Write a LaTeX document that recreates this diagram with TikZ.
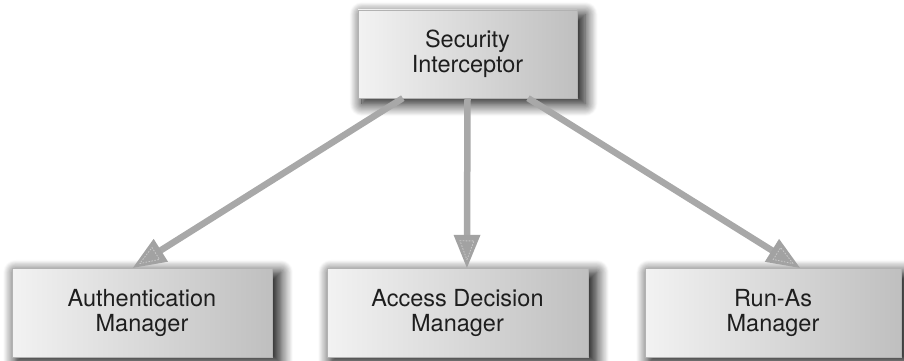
\documentclass[tikz,border=0pt]{standalone}
\usepackage{fontspec}
\setmainfont{TeX Gyre Heros}
\usetikzlibrary{calc,shadows.blur}
\definecolor{shaftgray}{HTML}{A8A8A8}
\definecolor{headgray}{HTML}{A2A2A2}
\definecolor{innergray}{HTML}{C8C8C8}
\definecolor{txt}{HTML}{1E1E1E}
\tikzset{
  box/.style={rectangle, inner sep=0pt, align=center, text=txt,
    font=\fontsize{23.5}{25}\selectfont,
    left color=black!5, right color=black!25, shading angle=90,
    draw=black!30, line width=0.3pt,
    blur shadow={shadow xshift=6pt, shadow yshift=-5pt, shadow blur radius=12pt,
      shadow blur steps=16, shadow opacity=95, shadow scale=1.02}},
  shaft/.style={draw=shaftgray, line width=6.5pt},
  headfill/.style={fill=headgray},
  innerdash/.style={draw=innergray, line width=0.8pt, dash pattern=on 1.6pt off 1.4pt}
}
\newcommand\fancyarrow[2]{%
  \coordinate (fab) at ($(#2)!33pt!(#1)$);
  \coordinate (fib) at ($(#2)!27pt!(#1)$);
  \coordinate (fit) at ($(#2)!8pt!(#1)$);
  \draw[shaft] (#1) -- ($(#2)!30pt!(#1)$);
  \fill[headfill] (#2) -- ($(fab)!13.5pt!90:(#2)$) -- ($(fab)!13.5pt!-90:(#2)$) -- cycle;
  \draw[innerdash] (fit) -- ($(fib)!7pt!90:(#2)$) -- ($(fib)!7pt!-90:(#2)$) -- cycle;
}
\begin{document}
\begin{tikzpicture}[x=1pt,y=-1pt]
\useasboundingbox (0,0) rectangle (904,361);
\node[box, minimum width=219pt, minimum height=88pt] (sec) at (467.5,54) {Security\\Interceptor};
\node[box, minimum width=260pt, minimum height=89pt] (auth) at (142,312.5) {Authentication\\Manager};
\node[box, minimum width=261pt, minimum height=89pt] (adm) at (457.5,312.5) {Access Decision\\Manager};
\node[box, minimum width=256pt, minimum height=89pt] (run) at (773,312.5) {Run-As\\Manager};
\coordinate (s1) at ($(sec.south west)!0.205!(sec.south east)$);
\coordinate (s2) at ($(sec.south west)!0.5!(sec.south east)$);
\coordinate (s3) at ($(sec.south west)!0.776!(sec.south east)$);
\coordinate (t1) at ($(auth.north west)!0.465!(auth.north east)$);
\coordinate (t2) at ($(adm.north west)!0.536!(adm.north east)$);
\coordinate (t3) at ($(run.north west)!0.605!(run.north east)$);
\fancyarrow{s1}{t1}
\fancyarrow{s2}{t2}
\fancyarrow{s3}{t3}
\end{tikzpicture}
\end{document}
